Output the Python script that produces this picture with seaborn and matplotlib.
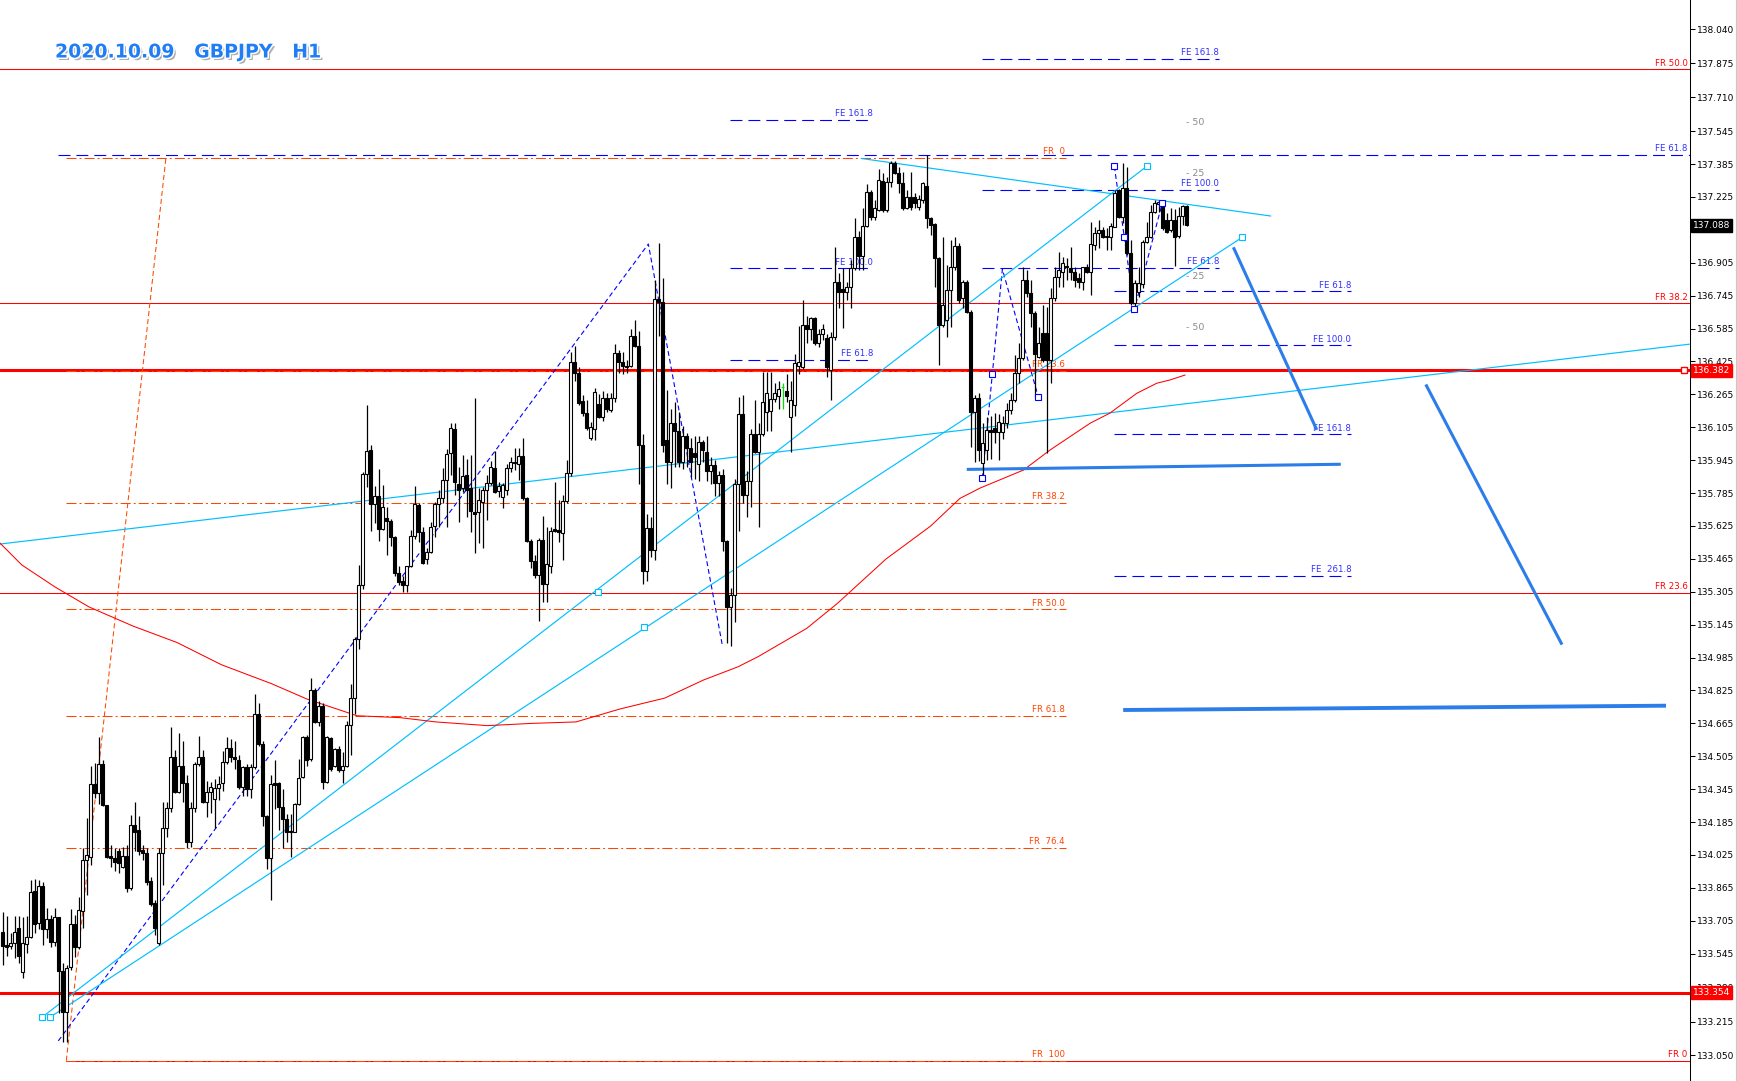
import numpy as np
import matplotlib
matplotlib.use('Agg')
import matplotlib.pyplot as plt
import matplotlib.patheffects as pe
from matplotlib.lines import Line2D
import seaborn as sns

# GBPJPY H1 candles, left to right
opens = [
    133.649, 133.586, 133.584, 133.597, 133.672, 133.458, 133.591, 133.628, 133.850, 133.693,
    133.874, 133.665, 133.714, 133.602, 133.723, 133.463, 133.263, 133.479, 133.689, 133.579,
    133.754, 134.001, 134.017, 134.369, 134.325, 134.468, 134.267, 134.022, 134.009, 134.046,
    133.968, 134.020, 133.866, 134.169, 134.147, 134.049, 134.036, 133.899, 133.790, 133.595,
    134.033, 134.155, 134.252, 134.500, 134.333, 134.458, 134.373, 134.088, 134.255, 134.468,
    134.500, 134.284, 134.333, 134.296, 134.349, 134.373, 134.477, 134.546, 134.503, 134.489,
    134.355, 134.451, 134.347, 134.451, 134.711, 134.567, 134.213, 134.008, 134.373, 134.373,
    134.256, 134.199, 134.138, 134.138, 134.272, 134.402, 134.598, 134.490, 134.828, 134.671,
    134.749, 134.378, 134.593, 134.460, 134.541, 134.437, 134.460, 134.659, 134.789, 135.076,
    135.336, 135.880, 135.995, 135.731, 135.771, 135.609, 135.666, 135.649, 135.571, 135.397,
    135.357, 135.336, 135.429, 135.574, 135.727, 135.597, 135.463, 135.497, 135.625, 135.730,
    135.760, 135.849, 135.978, 136.097, 135.830, 135.808, 135.873, 135.808, 135.693, 135.695,
    135.743, 135.800, 135.833, 135.905, 135.797, 135.768, 135.800, 135.905, 135.930, 135.926,
    135.965, 135.760, 135.554, 135.455, 135.387, 135.557, 135.343, 135.432, 135.609, 135.604,
    135.593, 135.747, 135.884, 136.420, 136.370, 136.234, 136.176, 136.051, 136.095, 136.218,
    136.154, 136.246, 136.189, 136.246, 136.468, 136.422, 136.405, 136.405, 136.547, 136.502,
    136.020, 135.405, 135.613, 135.509, 136.731, 136.715, 136.045, 135.936, 136.128, 136.087,
    135.936, 136.062, 136.003, 135.981, 135.928, 136.031, 135.986, 135.891, 135.919, 135.836,
    135.874, 135.551, 135.233, 135.291, 135.827, 136.167, 135.777, 135.844, 136.070, 135.986,
    136.070, 136.179, 136.182, 136.242, 136.259, 136.300, 136.283, 136.154, 136.212, 136.405,
    136.397, 136.601, 136.584, 136.634, 136.517, 136.559, 136.539, 136.383, 136.545, 136.813,
    136.776, 136.764, 136.786, 136.878, 137.032, 136.940, 137.084, 137.251, 137.129, 137.162,
    137.304, 137.162, 137.299, 137.389, 137.340, 137.291, 137.170, 137.223, 137.226, 137.178,
    137.210, 137.278, 137.121, 137.093, 136.926, 136.602, 136.627, 136.773, 136.886, 136.986,
    136.732, 136.813, 136.667, 136.181, 136.247, 135.930, 135.994, 136.092, 136.100, 136.084,
    136.084, 136.124, 136.189, 136.238, 136.367, 136.440, 136.821, 136.756, 136.659, 136.448,
    136.562, 136.562, 136.432, 136.732, 136.837, 136.862, 136.890, 136.881, 136.862, 136.829,
    136.813, 136.883, 136.859, 136.991, 137.048, 137.064, 137.035, 137.032, 137.080, 137.259,
    137.129, 137.267, 136.951, 136.708, 136.764, 136.802, 137.008, 137.032, 137.153, 137.190,
    137.202, 137.113, 137.064, 137.113, 137.035, 137.132, 137.181,
]
highs = [
    133.746, 133.730, 133.644, 133.730, 133.730, 133.725, 133.730, 133.903, 133.907, 133.903,
    133.894, 133.769, 133.733, 133.769, 133.725, 133.498, 133.490, 133.764, 133.733, 133.822,
    134.057, 134.203, 134.458, 134.471, 134.600, 134.487, 134.268, 134.074, 134.057, 134.057,
    134.066, 134.074, 134.220, 134.284, 134.215, 134.074, 134.057, 133.920, 133.806, 134.057,
    134.284, 134.284, 134.649, 134.536, 134.620, 134.579, 134.414, 134.284, 134.479, 134.604,
    134.536, 134.385, 134.382, 134.393, 134.409, 134.529, 134.598, 134.590, 134.581, 134.512,
    134.460, 134.468, 134.468, 134.810, 134.763, 134.581, 134.220, 134.416, 134.486, 134.381,
    134.347, 134.225, 134.225, 134.277, 134.494, 134.602, 134.607, 134.885, 134.838, 134.772,
    134.763, 134.605, 134.598, 134.546, 134.555, 134.526, 134.677, 134.855, 135.085, 135.435,
    135.887, 136.213, 136.019, 135.817, 135.901, 135.823, 135.718, 135.658, 135.574, 135.429,
    135.383, 135.432, 135.606, 135.817, 135.736, 135.622, 135.516, 135.646, 135.743, 135.800,
    135.905, 135.998, 136.128, 136.128, 135.910, 135.970, 135.949, 135.970, 136.246, 135.808,
    135.816, 135.873, 135.941, 135.991, 135.841, 135.833, 135.925, 135.962, 136.003, 136.003,
    136.051, 135.768, 135.560, 135.484, 135.565, 135.674, 135.622, 135.622, 135.841, 135.752,
    135.776, 135.946, 136.470, 136.500, 136.400, 136.260, 136.238, 136.132, 136.294, 136.267,
    136.279, 136.270, 136.270, 136.510, 136.480, 136.472, 136.430, 136.581, 136.626, 136.572,
    136.070, 135.685, 135.668, 136.823, 137.003, 136.832, 136.288, 136.195, 136.229, 136.179,
    136.112, 136.078, 136.053, 136.062, 136.062, 136.045, 136.062, 135.961, 135.944, 135.894,
    135.903, 135.559, 135.325, 135.852, 136.254, 136.263, 135.894, 136.095, 136.237, 136.128,
    136.376, 136.376, 136.376, 136.321, 136.330, 136.321, 136.366, 136.330, 136.463, 136.597,
    136.723, 136.648, 136.639, 136.639, 136.581, 136.606, 136.556, 136.570, 136.983, 136.854,
    136.878, 136.813, 136.918, 137.121, 137.060, 137.170, 137.286, 137.259, 137.210, 137.359,
    137.340, 137.320, 137.402, 137.402, 137.372, 137.348, 137.259, 137.348, 137.243, 137.234,
    137.299, 137.429, 137.129, 137.097, 136.934, 137.032, 136.894, 137.016, 137.032, 136.999,
    136.821, 136.821, 136.675, 136.260, 136.270, 136.124, 136.157, 136.160, 136.173, 136.170,
    136.160, 136.221, 136.270, 136.456, 136.513, 136.886, 136.870, 136.821, 136.670, 136.594,
    136.700, 136.691, 136.781, 136.886, 136.959, 136.935, 136.930, 136.983, 136.886, 136.854,
    136.886, 136.899, 137.105, 137.080, 137.113, 137.077, 137.072, 137.097, 137.259, 137.262,
    137.389, 137.372, 137.016, 136.821, 136.886, 137.016, 137.105, 137.186, 137.210, 137.210,
    137.210, 137.145, 137.169, 137.165, 137.178, 137.186, 137.186,
]
lows = [
    133.490, 133.534, 133.566, 133.522, 133.498, 133.428, 133.547, 133.620, 133.644, 133.663,
    133.587, 133.620, 133.579, 133.582, 133.258, 133.117, 133.117, 133.466, 133.531, 133.566,
    133.668, 133.831, 133.975, 134.301, 134.273, 134.263, 134.009, 133.965, 133.947, 133.939,
    133.960, 133.845, 133.855, 134.046, 134.025, 134.001, 133.879, 133.779, 133.636, 133.586,
    133.879, 134.114, 134.236, 134.325, 134.325, 134.284, 134.057, 134.066, 134.236, 134.458,
    134.279, 134.211, 134.228, 134.155, 134.292, 134.338, 134.468, 134.477, 134.442, 134.347,
    134.312, 134.312, 134.303, 134.442, 134.555, 134.164, 133.956, 133.808, 134.251, 134.147,
    134.060, 134.086, 134.017, 134.138, 134.268, 134.399, 134.460, 134.480, 134.668, 134.651,
    134.347, 134.373, 134.433, 134.451, 134.428, 134.373, 134.451, 134.512, 134.711, 135.029,
    135.319, 135.814, 135.602, 135.640, 135.550, 135.606, 135.484, 135.528, 135.383, 135.336,
    135.302, 135.302, 135.423, 135.562, 135.545, 135.439, 135.439, 135.492, 135.573, 135.622,
    135.735, 135.622, 135.873, 135.776, 135.646, 135.792, 135.670, 135.597, 135.492, 135.541,
    135.516, 135.654, 135.824, 135.784, 135.768, 135.711, 135.776, 135.889, 135.897, 135.849,
    135.751, 135.549, 135.419, 135.371, 135.165, 135.257, 135.257, 135.395, 135.597, 135.549,
    135.460, 135.735, 135.870, 136.330, 136.213, 136.160, 136.092, 136.043, 136.043, 136.149,
    136.137, 136.180, 136.180, 136.229, 136.371, 136.366, 136.370, 136.397, 136.497, 135.827,
    135.342, 135.358, 135.475, 135.459, 136.547, 135.986, 135.827, 135.810, 135.911, 135.911,
    135.902, 135.911, 135.861, 135.852, 135.844, 135.936, 135.844, 135.827, 135.769, 135.769,
    135.501, 135.057, 135.040, 135.157, 135.601, 135.735, 135.668, 135.718, 135.978, 135.618,
    136.062, 136.087, 136.087, 136.229, 136.196, 136.196, 136.229, 135.986, 136.162, 136.363,
    136.388, 136.514, 136.530, 136.505, 136.497, 136.530, 136.350, 136.238, 136.530, 136.683,
    136.586, 136.724, 136.683, 136.870, 136.870, 136.870, 137.077, 137.113, 137.113, 137.158,
    137.153, 137.150, 137.275, 137.337, 137.243, 137.162, 137.165, 137.162, 137.170, 137.162,
    137.194, 137.072, 137.040, 136.789, 136.408, 136.594, 136.545, 136.594, 136.870, 136.708,
    136.683, 136.659, 136.007, 135.938, 135.940, 135.857, 135.946, 135.950, 136.027, 135.946,
    136.050, 136.100, 136.170, 136.230, 136.319, 136.432, 136.740, 136.594, 136.254, 136.440,
    136.424, 135.978, 136.319, 136.720, 136.789, 136.789, 136.820, 136.821, 136.789, 136.781,
    136.773, 136.854, 136.748, 136.967, 136.975, 137.024, 136.967, 136.967, 137.077, 137.121,
    137.100, 136.943, 136.700, 136.679, 136.740, 136.781, 137.000, 137.024, 137.145, 137.150,
    137.064, 137.048, 137.056, 136.889, 137.024, 137.089, 137.084,
]
closes = [
    133.584, 133.580, 133.597, 133.649, 133.532, 133.595, 133.628, 133.847, 133.691, 133.874,
    133.665, 133.714, 133.602, 133.725, 133.463, 133.260, 133.474, 133.689, 133.579, 133.758,
    134.001, 134.025, 134.369, 134.325, 134.468, 134.267, 134.017, 134.009, 133.991, 133.988,
    134.020, 133.866, 134.169, 134.137, 134.046, 134.033, 133.894, 133.788, 133.670, 134.033,
    134.155, 134.252, 134.500, 134.333, 134.458, 134.373, 134.088, 134.255, 134.468, 134.500,
    134.284, 134.333, 134.357, 134.352, 134.370, 134.477, 134.546, 134.503, 134.494, 134.355,
    134.451, 134.347, 134.451, 134.711, 134.567, 134.213, 134.008, 134.369, 134.364, 134.256,
    134.199, 134.138, 134.143, 134.272, 134.399, 134.598, 134.486, 134.828, 134.671, 134.749,
    134.378, 134.598, 134.442, 134.541, 134.437, 134.460, 134.659, 134.789, 135.076, 135.336,
    135.880, 135.988, 135.731, 135.771, 135.609, 135.718, 135.649, 135.571, 135.394, 135.352,
    135.336, 135.429, 135.574, 135.731, 135.597, 135.447, 135.497, 135.622, 135.732, 135.760,
    135.849, 135.975, 136.100, 135.841, 135.800, 135.868, 135.800, 135.700, 135.685, 135.751,
    135.800, 135.833, 135.910, 135.792, 135.820, 135.824, 135.905, 135.938, 135.935, 135.967,
    135.760, 135.554, 135.455, 135.387, 135.557, 135.343, 135.439, 135.601, 135.602, 135.598,
    135.747, 135.884, 136.420, 136.370, 136.225, 136.176, 136.100, 136.105, 136.278, 136.157,
    136.246, 136.192, 136.246, 136.468, 136.422, 136.405, 136.400, 136.547, 136.502, 136.020,
    135.405, 135.613, 135.509, 136.731, 136.715, 136.020, 135.936, 136.128, 136.087, 135.936,
    136.062, 136.003, 135.936, 135.961, 136.031, 135.995, 135.891, 135.919, 135.836, 135.874,
    135.551, 135.233, 135.291, 135.827, 136.167, 135.777, 135.844, 136.070, 135.986, 136.070,
    136.226, 136.271, 136.242, 136.271, 136.293, 136.300, 136.259, 136.237, 136.417, 136.422,
    136.601, 136.584, 136.634, 136.517, 136.559, 136.584, 136.397, 136.545, 136.813, 136.764,
    136.764, 136.789, 136.878, 137.032, 136.940, 137.084, 137.251, 137.129, 137.170, 137.307,
    137.162, 137.299, 137.389, 137.340, 137.291, 137.170, 137.223, 137.178, 137.194, 137.213,
    137.291, 137.121, 137.088, 136.926, 136.602, 136.700, 136.773, 136.886, 136.986, 136.724,
    136.813, 136.667, 136.181, 136.247, 135.994, 136.030, 136.092, 136.080, 136.084, 136.132,
    136.124, 136.189, 136.238, 136.367, 136.440, 136.821, 136.760, 136.659, 136.460, 136.513,
    136.432, 136.432, 136.732, 136.837, 136.870, 136.902, 136.885, 136.862, 136.821, 136.813,
    136.883, 136.859, 136.996, 137.048, 137.064, 137.032, 137.032, 137.084, 137.243, 137.129,
    137.267, 136.951, 136.708, 136.805, 136.805, 137.008, 137.032, 137.153, 137.194, 137.200,
    137.072, 137.056, 137.113, 137.032, 137.132, 137.181, 137.088,
]

# red moving average (bar, price)
ma_bars = [-0.7, 4.8, 13.1, 21.6, 32.6, 43.6, 54.7, 67.2, 76.1, 88.6, 99.3, 108.3,
           121.2, 132.3, 143.3, 154.3, 165.5, 175.2, 183.8, 188.9, 201.0, 208.7,
           220.8, 232.0, 239.3, 244.3, 255.2, 261.8, 271.8, 276.8, 283.5, 288.5,
           291.8, 295.6]
ma_prices = [135.542, 135.435, 135.328, 135.231, 135.138, 135.058, 134.950, 134.858,
             134.783, 134.702, 134.693, 134.672, 134.654, 134.665, 134.672, 134.735,
             134.788, 134.876, 134.940, 134.990, 135.127, 135.249, 135.464, 135.625,
             135.759, 135.809, 135.897, 135.994, 136.124, 136.174, 136.270, 136.319,
             136.335, 136.359]

# price scale labels
price_labels = ['138.040', '137.875', '137.710', '137.545', '137.385', '137.225', '137.065',
                '136.905', '136.745', '136.585', '136.425', '136.265', '136.105', '135.945',
                '135.785', '135.625', '135.465', '135.305', '135.145', '134.985', '134.825',
                '134.665', '134.505', '134.345', '134.185', '134.025', '133.865', '133.705',
                '133.545', '133.380', '133.215', '133.050']

# fibo retracement (red, solid) and (orange, dash-dot)
red_fib_levels = [133.025, 135.300, 136.707, 137.845]
red_fib_labels = ['FR 0', 'FR 23.6', 'FR 38.2', 'FR 50.0']
orange_fib_levels = [137.414, 136.378, 135.737, 135.220, 134.702, 134.061, 133.025]
orange_fib_labels = ['FR  0', 'FR 23.6', 'FR 38.2', 'FR 50.0', 'FR 61.8', 'FR  76.4', 'FR  100']
orange_fib_span = [15.9, 265.8]
orange_diag_bars = [15.9, 40.8]
orange_diag_prices = [133.025, 137.414]

# fibo expansions (blue dashed)
fe1_levels = [137.601, 136.877, 136.432]
fe1_labels = ['FE 161.8', 'FE 100.0', 'FE 61.8']
fe1_span = [181.8, 217.6]
fe2_levels = [137.897, 137.261, 136.879]
fe2_labels = ['FE 161.8', 'FE 100.0', 'FE 61.8']
fe2_span = [244.8, 304.1]
fe3_levels = [136.766, 136.503, 136.071, 135.382]
fe3_labels = ['FE 61.8', 'FE 100.0', 'FE 161.8', 'FE  261.8']
fe3_span = [277.8, 337.1]
fe_top_level = 137.429
fe_top_start = 13.7

# gray level marks
gray_labels = ['- 50', '- 25', '- 25', '- 50']
gray_prices = [137.589, 137.341, 136.840, 136.588]
gray_bar = 295.8

# trend lines (cyan)
cyan_x0 = [-0.675, 214.6, 9.9, 11.9]
cyan_y0 = [135.537, 137.412, 133.237, 133.237]
cyan_x1 = [421.7, 317.0, 286.0, 309.9]
cyan_y1 = [136.509, 137.132, 137.374, 137.029]
cyan_sq_bars = [9.9, 11.9, 286.0, 309.9, 148.8, 160.25]
cyan_sq_prices = [133.237, 133.237, 137.374, 137.029, 135.302, 135.132]

# ABC swings of the expansions (blue dashed)
zz1_bars = [13.9, 161.4, 179.9]
zz1_prices = [133.121, 136.996, 135.044]
zz2_bars = [244.9, 249.9, 258.9]
zz2_prices = [135.857, 136.874, 136.251]
zz3_bars = [277.9, 282.9, 289.9]
zz3_prices = [137.374, 136.678, 137.197]
blue_sq_bars = [244.9, 247.4, 258.9, 277.9, 280.3, 282.9, 289.9]
blue_sq_prices = [135.857, 136.364, 136.251, 137.374, 137.029, 136.678, 137.197]

# hand drawn thick blue lines
thick_x0 = [241.0, 280.1, 307.65, 355.75]
thick_y0 = [135.900, 134.730, 136.980, 136.313]
thick_x1 = [334.5, 415.8, 328.5, 389.8]
thick_y1 = [135.925, 134.751, 136.092, 135.048]
thick_w = [2.2, 2.8, 2.2, 2.2]

# horizontal support/resistance + price tags
sr_levels = [136.382, 133.354]
last_price = 137.088

sns.set_style('white')
plt.rcParams['font.family'] = ['DejaVu Sans']
plt.rcParams['lines.scale_dashes'] = False

RED = '#ff0000'
ORANGE = '#ff4500'
BLUE = '#0000ff'
FE_TXT = '#3030ff'
CYAN = '#00bfff'
THICK = '#2b7de9'

fig = plt.figure(figsize=(17.37, 10.81), dpi=100)
ax = fig.add_axes([0, 0, 1689.6 / 1737, 1])
xmax = 421.7
ax.set_xlim(-0.675, xmax)
ax.set_ylim(132.926, 138.1825)

dashdot = (0, (7.2, 2.2, 1.4, 2.2))
fe_dash = (0, (8.6, 4.3))
zz_dash = (0, (3.5, 2.2))

# red fibo (solid)
for lev, lab in zip(red_fib_levels, red_fib_labels):
    x0 = orange_fib_span[0] if lab == 'FR 0' else -1
    ax.plot([x0, xmax + 1], [lev, lev], color=RED, lw=0.75, zorder=2)
    ax.annotate(lab, xy=(1, lev), xycoords=ax.get_yaxis_transform(), xytext=(-1.5, 1.2),
                textcoords='offset points', ha='right', va='bottom', fontsize=6.2, color=RED)

for lev in sr_levels:
    ax.axhline(lev, color=RED, lw=2.2, zorder=2)
ax.plot(420.3, sr_levels[0], marker='s', ms=4, mfc='white', mec=RED, mew=1, zorder=8, clip_on=False)

# orange fibo (dash-dot)
for lev, lab in zip(orange_fib_levels, orange_fib_labels):
    ax.plot(orange_fib_span, [lev, lev], color=ORANGE, lw=0.75, ls=dashdot, zorder=2)
    ax.annotate(lab, xy=(orange_fib_span[1], lev), xytext=(-1, 1.2), textcoords='offset points',
                ha='right', va='bottom', fontsize=6.2, color=ORANGE, zorder=2)
ax.plot(orange_diag_bars, orange_diag_prices, color=ORANGE, lw=0.75, ls=(0, (3.6, 2.2)), zorder=2)

# fibo expansions
for levels, labels, span in [(fe1_levels, fe1_labels, fe1_span),
                             (fe2_levels, fe2_labels, fe2_span),
                             (fe3_levels, fe3_labels, fe3_span)]:
    for lev, lab in zip(levels, labels):
        ax.plot(span, [lev, lev], color=BLUE, lw=0.8, ls=fe_dash, zorder=2)
        ax.annotate(lab, xy=(span[1], lev), xytext=(0, 1.2), textcoords='offset points',
                    ha='right', va='bottom', fontsize=6.2, color=FE_TXT, zorder=2)
ax.plot([fe_top_start, xmax + 1], [fe_top_level, fe_top_level], color=BLUE, lw=0.8, ls=fe_dash, zorder=2)
ax.annotate('FE 61.8', xy=(1, fe_top_level), xycoords=ax.get_yaxis_transform(), xytext=(-1.5, 1.2),
            textcoords='offset points', ha='right', va='bottom', fontsize=6.2, color=FE_TXT)

for lab, pr in zip(gray_labels, gray_prices):
    ax.text(gray_bar, pr, lab, ha='left', va='center', fontsize=6.8, color='#8c8c8c', zorder=2)

# ABC swings
for bx, py in [(zz1_bars, zz1_prices), (zz2_bars, zz2_prices), (zz3_bars, zz3_prices)]:
    ax.plot(bx, py, color=BLUE, lw=0.8, ls=zz_dash, zorder=2)
ax.plot(blue_sq_bars, blue_sq_prices, ls='none', marker='s', ms=4, mfc='white', mec=BLUE, mew=0.8, zorder=7)

# cyan trend lines
for x0, y0, x1, y1 in zip(cyan_x0, cyan_y0, cyan_x1, cyan_y1):
    ax.plot([x0, x1], [y0, y1], color=CYAN, lw=0.85, zorder=2)
ax.plot(cyan_sq_bars, cyan_sq_prices, ls='none', marker='s', ms=4, mfc='white', mec=CYAN, mew=0.8, zorder=7)

# thick blue projections
for x0, y0, x1, y1, w in zip(thick_x0, thick_y0, thick_x1, thick_y1, thick_w):
    ax.plot([x0, x1], [y0, y1], color=THICK, lw=w, solid_capstyle='butt', zorder=4)

# moving average
sns.lineplot(x=ma_bars, y=ma_prices, color=RED, lw=0.75, sort=False, ax=ax, zorder=2)

# candles
o = np.array(opens)
c = np.array(closes)
h = np.maximum.reduce([np.array(highs), o, c])
l = np.minimum.reduce([np.array(lows), o, c])
idx = np.arange(len(o))
flat = np.isclose(o, c)
wick_col = np.where(flat, '#00e000', 'black')
body_col = np.where(flat, '#00e000', np.where(c > o, 'white', 'black'))
edge_col = np.where(flat, '#00e000', 'black')
ax.vlines(idx, l, h, colors=wick_col, lw=0.9, zorder=5)
ax.bar(idx, np.abs(c - o), bottom=np.minimum(o, c), width=0.66, color=body_col,
       edgecolor=edge_col, linewidth=0.8, zorder=6)

# price axis on the right
for s in ['top', 'left', 'bottom']:
    ax.spines[s].set_visible(False)
ax.spines['right'].set_color('black')
ax.spines['right'].set_linewidth(0.75)
ax.set_xticks([])
ax.yaxis.tick_right()
ax.set_yticks([float(t) for t in price_labels])
ax.set_yticklabels(price_labels)
ax.tick_params(axis='y', direction='out', length=3.6, width=0.75, pad=1.5,
               labelsize=6.5, colors='black')
ax.set_xlabel('')
ax.set_ylabel('')

tag_prices = [last_price] + sr_levels
tag_colors = ['black', RED, RED]
for val, fc in zip(tag_prices, tag_colors):
    ax.text(1.002, val, f'{val:.3f}', transform=ax.get_yaxis_transform(), ha='left', va='center',
            fontsize=6.5, color='white', zorder=10, clip_on=False,
            bbox=dict(boxstyle='square,pad=0.22', fc=fc, ec=fc))

fig.add_artist(Line2D([1736 / 1737] * 2, [0, 1], color='#c8c8c8', lw=0.8,
                      transform=fig.transFigure))

fig.text(55 / 1737, 1 - 52 / 1081, '2020.10.09   GBPJPY   H1', fontsize=13.6, fontweight='bold',
         color='#1f7ef5', ha='left', va='center',
         path_effects=[pe.SimplePatchShadow(offset=(1.8, -1.8), shadow_rgbFace='#9a9a9a', alpha=0.8),
                       pe.Stroke(linewidth=2.2, foreground='white'), pe.Normal()])

fig.savefig('out.png', dpi=100, facecolor='white')
